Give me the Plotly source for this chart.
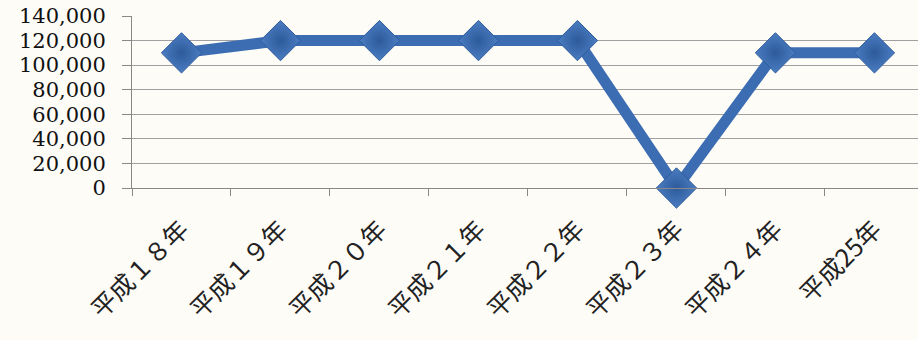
import plotly.graph_objects as go

categories = ["平成１８年", "平成１９年", "平成２０年", "平成２１年", "平成２２年",
              "平成２３年", "平成２４年", "平成25年"]
values = [110000, 120000, 120000, 120000, 120000, 0, 110000, 110000]
y_ticks = [0, 20000, 40000, 60000, 80000, 100000, 120000, 140000]

fig = go.Figure()
fig.add_trace(go.Scatter(
    x=categories, y=values, mode="lines+markers",
    line=dict(color="#3C6DB3", width=11),
    marker=dict(symbol="diamond", size=31, color="#4B7DC2",
                gradient=dict(type="radial", color="#2D5A9A"),
                line=dict(color="#2E5B9B", width=1)),
    cliponaxis=False, showlegend=False,
))

fig.update_layout(
    width=918, height=340,
    margin=dict(l=132, r=0, t=16, b=152),
    paper_bgcolor="#FDFCF7", plot_bgcolor="#FDFCF7",
    xaxis=dict(
        type="category", range=[-0.5, 7.44], tickangle=-45,
        tickson="boundaries", ticks="outside", ticklen=7, tickcolor="#888",
        showline=True, linecolor="#888", linewidth=1, showgrid=False,
        ticklabelstandoff=16,
        tickfont=dict(family="Noto Sans CJK JP", size=25, color="#222"),
    ),
    yaxis=dict(
        range=[0, 140000], tickvals=y_ticks, tickformat=",",
        ticks="outside", ticklen=9, tickcolor="#888",
        showline=True, linecolor="#888", linewidth=1,
        showgrid=True, gridcolor="#A0A0A0", gridwidth=1, zeroline=False,
        ticklabelstandoff=12,
        tickfont=dict(family="DejaVu Serif", size=21, color="#111"),
    ),
)

fig.write_html("out.html")
